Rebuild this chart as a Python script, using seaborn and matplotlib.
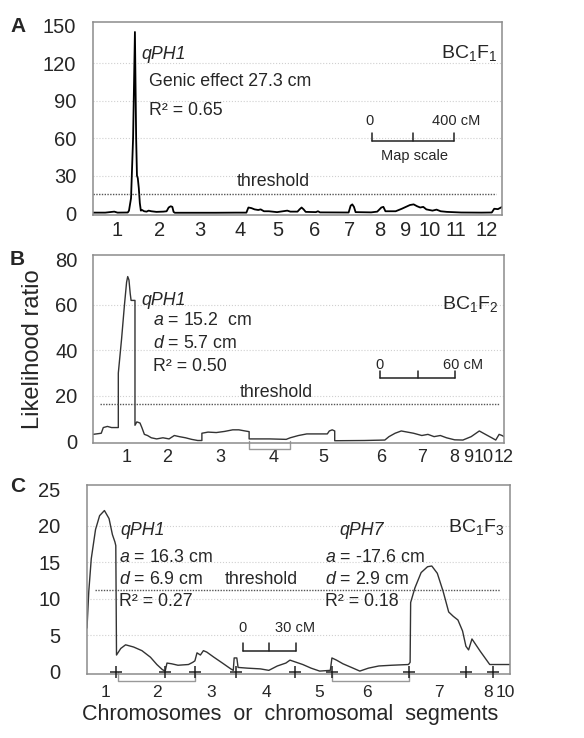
import numpy as np
import pandas as pd
import matplotlib
matplotlib.use("Agg")
import matplotlib.pyplot as plt
from matplotlib.ticker import FixedLocator, MultipleLocator
import seaborn as sns

# ---------------- data ----------------
# Panel A: BC1F1, whole genome, positions in cM
a_bounds = [0, 232, 415, 630, 812, 992, 1172, 1336, 1470, 1588, 1702, 1850, 2000]
a_labels = ["1", "2", "3", "4", "5", "6", "7", "8", "9", "10", "11", "12"]
a_x = [0, 60, 104, 120, 170, 176, 186, 196, 205, 211, 215, 219, 224, 229, 234, 240, 250, 262,
       272, 285, 300, 310, 344, 360, 370, 380, 388, 394, 400, 600, 700, 750, 760, 775, 790, 808,
       820, 836, 860, 900, 950, 965, 1000, 1010, 1020, 1030, 1040, 1090, 1100, 1110, 1250, 1260,
       1268, 1276, 1284, 1360, 1390, 1410, 1420, 1430, 1480, 1510, 1530, 1550, 1568, 1585, 1600,
       1615, 1630, 1660, 1680, 1700, 1730, 1800, 1900, 1950, 1962, 1980, 1995, 2000]
a_lr = [0.4, 0.4, 1.2, 0.4, 0.5, 2, 12, 60, 145, 60, 30, 28, 20, 8, 2, 2.5, 1.5, 1.2,
        2, 1.5, 1.2, 1, 1.2, 1.5, 4.5, 5.5, 5, 1, 0.3, 0.3, 0.4, 0.4, 4.5, 4, 3, 2.5,
        3, 1.5, 1.5, 0.8, 2, 1.2, 1.2, 3, 4.5, 3, 1, 0.8, 1.5, 0.6, 0.5, 6,
        7, 5, 0.8, 0.6, 1.2, 4.5, 5, 1.5, 1.5, 3.5, 5, 6.5, 7, 5.5, 4.5,
        5, 3, 2, 2.8, 1.5, 1, 0.5, 0.4, 0.5, 3.5, 3.2, 4.5, 5]
a_threshold = 15

# Panel B: BC1F2, chromosomal segments, positions in cM
b_label_pos = [26.5, 59, 101.7, 144.3, 183.7, 229.6, 262.4, 288, 299.5, 311.5, 328]
b_labels = ["1", "2", "3", "4", "5", "6", "7", "8", "9", "10", "12"]
b_bounds = [33.5, 86.9, 124.6, 157.4, 192.9, 216.5, 244, 285, 311]
b_x = [0, 6.6, 8.2, 11.5, 14.8, 20.2, 20.2, 22.8, 25.1, 26.8, 27.7, 28.7, 29.7, 30.4, 33.5, 33.5,
       35, 37.5, 39, 41, 43.5, 46.5, 50.8, 55.8, 60.7, 64.9, 68.9, 73.8, 78.7, 83.6, 86.9,
       86.9, 91.8, 98.4, 105, 111.5, 116.4, 121.4, 124.6, 124.6, 141, 154.2, 157.4, 164, 170.6,
       177.1, 187, 188.6, 190.9, 192.9, 192.9, 216.5, 232.9, 236.2, 241.1, 246, 250.9, 255.8,
       262.4, 267.3, 272.2, 277.2, 282.1, 288.6, 295.2, 301.8, 308.3, 313.2, 318.2, 321.4, 324.1,
       326.4, 328]
b_lr = [3, 3.5, 6, 6.5, 6, 6, 30, 45, 60, 70, 72.5, 71, 65, 62, 62, 7,
        8.5, 8, 6, 3, 2.5, 1.5, 1, 1.5, 1, 2.5, 2, 1.5, 0.8, 0.3, 0.3,
        3.5, 4, 3.8, 4.3, 5, 5, 4.5, 4.2, 1, 1, 0.8, 1.5, 2.5, 3.2,
        3.2, 3.2, 4.5, 5, 4.5, 0.2, 0.3, 0.5, 2, 3.5, 4.5, 4, 3.5,
        2.5, 3, 2, 2.5, 1.5, 0.6, 0.5, 2, 4.5, 3, 1.5, 0.5, 3,
        2.5, 2]
b_threshold = 16.3
b_bracket = [124.6, 157.4]

# Panel C: BC1F3, chromosomal segments, positions in cM
c_label_pos = [10.5, 39.3, 70, 100.7, 130.4, 157.3, 198, 225.9, 235.1]
c_labels = ["1", "2", "3", "4", "5", "6", "7", "8", "10"]
c_markers = [16.2, 44, 60.7, 84, 117.3, 137.8, 181.4, 213.5, 228.2]
c_x = [0, 1.0, 2.4, 4.8, 7.1, 9.8, 12.4, 14.3, 15.7, 16.2, 16.6, 19.0, 21.7, 26.2, 30.9, 35.7,
       39.3, 42.4, 44.0, 45.0, 47.6, 51.2, 57.1, 59.5, 60.7, 61.9, 63.8, 65.5, 67.4, 71.4, 76.2,
       80.9, 82.3, 82.8, 84.3, 85.0, 90.4, 97.6, 102.3, 107.1, 111.9, 114.2, 117.8, 121.4, 126.1,
       130.9, 136.9, 137.8, 140.4, 144.0, 148.8, 153.5, 158.3, 164.2, 171.4, 180.9, 181.8, 182.1,
       184.5, 188.0, 191.6, 194.0, 197.1, 200.4, 203.5, 206.1, 208.7, 211.3, 213.2, 214.7, 216.6,
       221.3, 226.6, 238]
c_lr = [6, 11, 15.5, 19.5, 21.4, 22.1, 21.0, 18.8, 17.8, 17.3, 2.3, 3.2, 3.7, 3.4, 2.9, 2.0,
        1.0, 0.3, 0.1, 1.2, 1.1, 0.9, 1.0, 1.3, 1.5, 2.6, 2.3, 2.9, 2.7, 2.0, 1.2,
        0.4, 0.2, 1.9, 1.9, 0.6, 0.5, 0.4, 0.2, 0.8, 1.2, 1.6, 1.3, 1.0, 0.5,
        0.1, 0.2, 1.9, 1.6, 1.1, 0.6, 0.1, 0.5, 0.8, 0.9, 1.0, 1.3, 9.5,
        11.5, 13.6, 14.4, 14.5, 13.5, 11.0, 8.2, 7.6, 7.1, 5.6, 3.5, 3.0, 4.5,
        2.8, 1.0, 1.0]
c_threshold = 11.2
c_brackets = [[17.4, 60.7], [137.8, 181.4]]

# map-scale bars: (start cM, length cM)
a_scale = (1364, 400)
b_scale = (229, 60)
c_scale = (87.6, 30)

# ---------------- style ----------------
sns.set_style("white")
REG = "Liberation Sans"
plt.rcParams["font.family"] = [REG, "DejaVu Sans"]
plt.rcParams["mathtext.fontset"] = "custom"
plt.rcParams["mathtext.rm"] = REG
plt.rcParams["mathtext.it"] = REG + ":italic"

FRAME = "#8c8c8c"
GRID = "#d0d0d0"
ANN = 12.8   # annotation font size
TICK = 14.5

fig = plt.figure(figsize=(5.84, 7.38), dpi=100)
axA = fig.add_axes([93 / 584, 1 - 215 / 738, (502 - 93) / 584, (215 - 22) / 738])
axB = fig.add_axes([93 / 584, 1 - 443 / 738, (504 - 93) / 584, (443 - 255) / 738])
axC = fig.add_axes([87 / 584, 1 - 674 / 738, (510 - 87) / 584, (674 - 485) / 738])


def frame(ax, ylim, xlim, major, minor, grid_vals, pad):
    ax.set_xlim(*xlim)
    ax.set_ylim(*ylim)
    for s in ax.spines.values():
        s.set_color(FRAME)
        s.set_linewidth(1.1)
        s.set_visible(True)
    ax.yaxis.set_major_locator(MultipleLocator(major))
    ax.yaxis.set_minor_locator(MultipleLocator(minor))
    ax.tick_params(axis="y", which="major", direction="in", length=5, color=FRAME,
                   labelsize=TICK, pad=pad)
    ax.tick_params(axis="y", which="minor", direction="in", length=3, color=FRAME)
    for g in grid_vals:
        ax.axhline(g, color=GRID, lw=0.8, ls=":", zorder=0)
    ax.set_xlabel("")
    ax.set_ylabel("")


def scale_bar(ax, start, length, y, tick_h):
    xs = [start, start + length / 2, start + length]
    ax.plot([xs[0], xs[2]], [y, y], color="#222222", lw=1.1)
    for x in xs:
        ax.plot([x, x], [y, y + tick_h], color="#222222", lw=1.1)


# ---------------- Panel A ----------------
sns.lineplot(x=a_x, y=a_lr, ax=axA, estimator=None, sort=False, color="black", lw=1.3)
frame(axA, (-1.5, 153), (0, 2000), 30, 10, [30, 60, 90, 120], 12)
axA.axhline(a_threshold, xmin=0.0, xmax=0.985, color="#555555", lw=1.0, ls=(0, (1, 1)))
a_centers = [(a_bounds[i] + a_bounds[i + 1]) / 2 for i in range(len(a_bounds) - 1)]
axA.xaxis.set_major_locator(FixedLocator(a_centers))
axA.set_xticklabels(a_labels, fontsize=TICK)
axA.xaxis.set_minor_locator(FixedLocator(a_bounds[1:-1]))
axA.tick_params(axis="x", which="major", length=0, pad=4)
axA.tick_params(axis="x", which="minor", direction="inout", length=7, color=FRAME, width=1)
axA.text(236, 127, "qPH1", fontsize=ANN, style="italic", va="center")
axA.text(272, 105, "Genic effect 27.3 cm", fontsize=ANN, va="center")
axA.text(272, 82, "R² = 0.65", fontsize=ANN, va="center")
axA.text(880, 25, "threshold", fontsize=ANN, ha="center", va="center")
axA.text(1976, 128, r"BC$_1$F$_1$", fontsize=14, ha="right", va="center")
scale_bar(axA, a_scale[0], a_scale[1], 58, 6)
axA.text(a_scale[0] - 10, 74, "0", fontsize=10.5, ha="center", va="center")
axA.text(a_scale[0] + a_scale[1] + 130, 74, "400 cM", fontsize=10.5, ha="right", va="center")
axA.text(a_scale[0] + a_scale[1] / 2 + 10, 46, "Map scale", fontsize=10.5, ha="center", va="center")

# ---------------- Panel B ----------------
sns.lineplot(x=b_x, y=b_lr, ax=axB, estimator=None, sort=False, color="#333333", lw=1.0)
frame(axB, (-0.8, 82), (0, 328), 20, 5, [20, 40, 60], 11)
axB.axhline(b_threshold, xmin=0.018, xmax=0.99, color="#555555", lw=1.0, ls=(0, (1, 1)))
axB.xaxis.set_major_locator(FixedLocator(b_label_pos))
axB.set_xticklabels(b_labels, fontsize=13)
axB.xaxis.set_minor_locator(FixedLocator(b_bounds))
axB.tick_params(axis="x", which="major", length=0, pad=4)
axB.tick_params(axis="x", which="minor", direction="inout", length=7, color=FRAME, width=1)
axB.plot([b_bracket[0], b_bracket[0], b_bracket[1], b_bracket[1]], [0, -3.5, -3.5, 0],
         color="#999999", lw=1.0, clip_on=False)
axB.text(38.5, 62, "qPH1", fontsize=ANN, style="italic", va="center")
axB.text(47.5, 53.3, r"$a$ = 15.2  cm", fontsize=ANN, va="center")
axB.text(47.5, 43.2, r"$d$ = 5.7 cm", fontsize=ANN, va="center")
axB.text(47.5, 33.1, "R² = 0.50", fontsize=ANN, va="center")
axB.text(146, 21.6, "threshold", fontsize=ANN, ha="center", va="center")
axB.text(323.5, 60.5, r"BC$_1$F$_2$", fontsize=14, ha="right", va="center")
scale_bar(axB, b_scale[0], b_scale[1], 28, 2.8)
axB.text(b_scale[0], 33.5, "0", fontsize=10.5, ha="center", va="center")
axB.text(b_scale[0] + b_scale[1] + 22, 33.5, "60 cM", fontsize=10.5, ha="right", va="center")
axB.set_ylabel("Likelihood ratio", fontsize=17, labelpad=8)

# ---------------- Panel C ----------------
sns.lineplot(x=c_x, y=c_lr, ax=axC, estimator=None, sort=False, color="#333333", lw=1.0)
frame(axC, (-0.3, 25.6), (0, 238), 5, 1, [5, 10, 15, 20], 19)
axC.axhline(c_threshold, xmin=0.02, xmax=0.976, color="#555555", lw=1.0, ls=(0, (1, 1)))
sns.scatterplot(x=c_markers, y=[0] * len(c_markers), ax=axC, marker="+", s=70,
                color="#222222", linewidth=1.1, clip_on=False, zorder=5)
for br in c_brackets:
    axC.plot([br[0], br[0], br[1], br[1]], [0, -1.3, -1.3, 0], color="#999999", lw=1.0,
             clip_on=False)
axC.xaxis.set_major_locator(FixedLocator(c_label_pos))
axC.set_xticklabels(c_labels, fontsize=12.5)
axC.tick_params(axis="x", which="major", length=0, pad=8)
axC.text(19, 19.3, "qPH1", fontsize=ANN, style="italic", va="center")
axC.text(18, 15.6, r"$a$ = 16.3 cm", fontsize=ANN, va="center")
axC.text(18, 12.6, r"$d$ = 6.9 cm", fontsize=ANN, va="center")
axC.text(18, 9.7, "R² = 0.27", fontsize=ANN, va="center")
axC.text(98, 12.6, "threshold", fontsize=ANN, ha="center", va="center")
axC.text(142, 19.3, "qPH7", fontsize=ANN, style="italic", va="center")
axC.text(134, 15.6, r"$a$ = -17.6 cm", fontsize=ANN, va="center")
axC.text(134, 12.6, r"$d$ = 2.9 cm", fontsize=ANN, va="center")
axC.text(134, 9.7, "R² = 0.18", fontsize=ANN, va="center")
axC.text(235, 19.9, r"BC$_1$F$_3$", fontsize=14, ha="right", va="center")
scale_bar(axC, c_scale[0], c_scale[1], 2.9, 1.0)
axC.text(c_scale[0], 6.0, "0", fontsize=10.5, ha="center", va="center")
axC.text(c_scale[0] + c_scale[1] + 11, 6.0, "30 cM", fontsize=10.5, ha="right", va="center")
axC.set_xlabel("Chromosomes  or  chromosomal  segments", fontsize=15.5, labelpad=3)
axC.xaxis.label.set_x(0.48)

# panel letters
for letter, ypx in [("A", 17), ("B", 250), ("C", 477)]:
    fig.text(10 / 584, 1 - ypx / 738, letter, fontsize=15, fontweight="bold", va="top", ha="left")

fig.savefig("out.png", dpi=100, facecolor="white")
